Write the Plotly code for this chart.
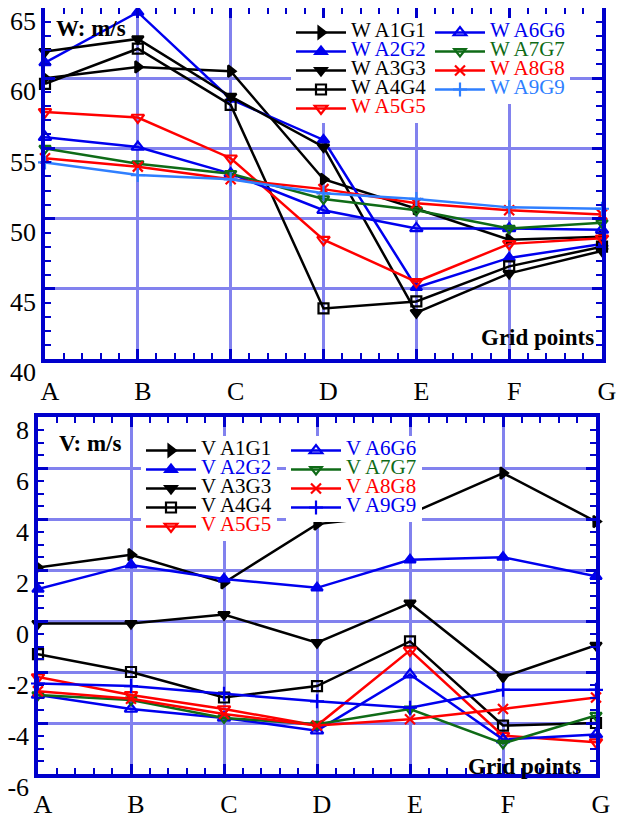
import plotly.graph_objects as go

# ---------------- data ----------------
categories = ["A", "B", "C", "D", "E", "F", "G"]
x_pos = list(range(len(categories)))

w_ticks = [40, 45, 50, 55, 60, 65]
w_tick_labels = ["40", "45", "50", "55", "60", "65"]
v_ticks = [-6, -4, -2, 0, 2, 4, 6, 8]
v_tick_labels = ["-6", "-4", "-2", "0", "2", "4", "6", "8"]

w_a1g1 = [60.0, 60.8, 60.5, 52.8, 50.7, 48.5, 48.7]
w_a2g2 = [61.1, 64.7, 58.5, 55.6, 45.1, 47.2, 48.2]
w_a3g3 = [61.9, 62.8, 58.7, 55.1, 43.3, 46.1, 47.7]
w_a4g4 = [59.6, 62.1, 58.1, 43.6, 44.1, 46.6, 48.0]
w_a5g5 = [57.6, 57.2, 54.3, 48.5, 45.5, 48.2, 48.6]
w_a6g6 = [55.8, 55.1, 53.2, 50.6, 49.3, 49.3, 49.2]
w_a7g7 = [55.0, 53.9, 53.2, 51.4, 50.6, 49.3, 49.7]
w_a8g8 = [54.3, 53.7, 52.8, 52.1, 51.1, 50.6, 50.3]
w_a9g9 = [54.0, 53.1, 52.8, 51.8, 51.4, 50.8, 50.7]

v_a1g1 = [2.1, 2.6, 1.5, 3.8, 4.2, 5.8, 3.9]
v_a2g2 = [1.25, 2.2, 1.65, 1.3, 2.4, 2.5, 1.75]
v_a3g3 = [-0.1, -0.1, 0.25, -0.85, 0.7, -2.2, -0.95]
v_a4g4 = [-1.3, -2.0, -3.0, -2.55, -0.8, -4.1, -4.0]
v_a5g5 = [-2.2, -2.9, -3.45, -4.1, -1.15, -4.5, -4.75]
v_a6g6 = [-2.9, -3.45, -3.8, -4.3, -2.1, -4.65, -4.45]
v_a7g7 = [-2.9, -3.1, -3.8, -4.05, -3.45, -4.8, -3.7]
v_a8g8 = [-2.75, -3.05, -3.65, -4.1, -3.85, -3.45, -3.0]
v_a9g9 = [-2.45, -2.55, -2.85, -3.15, -3.4, -2.7, -2.7]

series_ids = ["A1G1", "A2G2", "A3G3", "A4G4", "A5G5", "A6G6", "A7G7", "A8G8", "A9G9"]
w_values = [w_a1g1, w_a2g2, w_a3g3, w_a4g4, w_a5g5, w_a6g6, w_a7g7, w_a8g8, w_a9g9]
v_values = [v_a1g1, v_a2g2, v_a3g3, v_a4g4, v_a5g5, v_a6g6, v_a7g7, v_a8g8, v_a9g9]

# ---------------- styles ----------------
BLACK, BLUE, GREEN, RED, LBLUE = "#000000", "#0000ee", "#0f6b17", "#ff0000", "#2f7fff"
w_colors = [BLACK, BLUE, BLACK, BLACK, RED, BLUE, GREEN, RED, LBLUE]
v_colors = [BLACK, BLUE, BLACK, BLACK, RED, BLUE, GREEN, RED, BLUE]
symbols = ["triangle-right", "triangle-up", "triangle-down", "square-open",
           "triangle-down-open", "triangle-up-open", "triangle-down-open",
           "x-thin-open", "cross-thin-open"]
msizes = [10, 10, 10, 10, 11, 11, 10, 10, 10]

FRAME = "#0000cc"
GRID = "rgb(130,130,238)"
FONT = "Liberation Serif"

# page body has an 8px margin: figure is drawn at (8, 8) in the window
OFF = 8
W, H = 616, 812


def px_x(p):
    return min(max((p - OFF) / W, 0), 1)


def px_y(p):
    return min(max(1 - (p - OFF) / H, 0), 1)


fig = go.Figure()


def add_series(values, colors, prefix, xa, ya, leg_a, leg_b):
    for i, (sid, vals, col) in enumerate(zip(series_ids, values, colors)):
        name = f"<span style='font-size:21px;color:{col}'>{prefix} {sid}</span>"
        fig.add_trace(go.Scatter(
            x=x_pos, y=vals, mode="lines+markers", name=name,
            xaxis=xa, yaxis=ya, legend=leg_a if i < 5 else leg_b,
            line=dict(color=col, width=2.5),
            marker=dict(symbol=symbols[i], size=msizes[i], color=col,
                        line=dict(color=col, width=2.2)),
            cliponaxis=False,
        ))


add_series(w_values, w_colors, "W", "x", "y", "legend", "legend2")
add_series(v_values, v_colors, "V", "x2", "y2", "legend3", "legend4")


def xaxis_style(domain, anchor, standoff):
    return dict(
        domain=domain, anchor=anchor, range=[0, 6], tickmode="array",
        tickvals=x_pos, ticktext=categories, showline=True, linecolor=FRAME,
        linewidth=3.5, mirror="allticks", ticks="inside", ticklen=10,
        tickwidth=2.5, tickcolor=FRAME, showgrid=True, gridcolor=GRID,
        gridwidth=2.5, zeroline=False, automargin=False,
        ticklabelstandoff=standoff, ticklabelshift=5, ticklabeloverflow="allow",
        tickfont=dict(family=FONT, size=26, color="black"),
        minor=dict(tickmode="linear", tick0=0, dtick=0.2, ticks="inside",
                   ticklen=6, tickwidth=2, tickcolor=FRAME, showgrid=False),
    )


def yaxis_style(domain, anchor, rng, ticks, labels, minor_dtick):
    return dict(
        domain=domain, anchor=anchor, range=rng, tickmode="array",
        tickvals=ticks, ticktext=labels, showline=True, linecolor=FRAME,
        linewidth=3.5, mirror="allticks", ticks="inside", ticklen=10,
        tickwidth=2.5, tickcolor=FRAME, showgrid=True, gridcolor=GRID,
        gridwidth=2.5, zeroline=False, automargin=False, ticklabelshift=13,
        ticklabelstandoff=0, ticklabeloverflow="allow",
        tickfont=dict(family=FONT, size=26, color="black"),
        minor=dict(tickmode="linear", tick0=rng[0], dtick=minor_dtick,
                   ticks="inside", ticklen=6, tickwidth=2, tickcolor=FRAME,
                   showgrid=False),
    )


fig.update_layout(
    width=W, height=H, margin=dict(l=0, r=0, t=0, b=0),
    paper_bgcolor="white", plot_bgcolor="white",
    font=dict(family=FONT, color="black"),
    xaxis=xaxis_style([px_x(45), px_x(602)], "y", 6),
    yaxis=yaxis_style([px_y(359), px_y(8)], "x", [40, 65], w_ticks, w_tick_labels, 1),
    xaxis2=xaxis_style([px_x(38), px_x(596)], "y2", 4),
    yaxis2=yaxis_style([px_y(774), px_y(417)], "x2", [-6, 8], v_ticks, v_tick_labels, 0.5),
    showlegend=True,
)


def legend_style(xpx, ypx):
    return dict(x=px_x(xpx), y=px_y(ypx), xanchor="left", yanchor="top",
                bgcolor="white", borderwidth=0, itemwidth=50,
                font=dict(family=FONT, size=11, color="black"),
                tracegroupgap=0, itemclick=False)


fig.update_layout(
    legend=legend_style(291, 18),
    legend2=legend_style(430, 18),
    legend3=legend_style(141, 436),
    legend4=legend_style(286, 436),
)

ann = [
    dict(text="<b>W: m/s</b>", x=px_x(54), y=px_y(29)),
    dict(text="<b>V: m/s</b>", x=px_x(57), y=px_y(443)),
    dict(text="<b>Grid points</b>", x=px_x(479), y=px_y(337)),
    dict(text="<b>Grid points</b>", x=px_x(466), y=px_y(766)),
]
for a in ann:
    fig.add_annotation(xref="paper", yref="paper", xanchor="left", yanchor="middle",
                       showarrow=False, font=dict(family=FONT, size=23, color="black"),
                       **a)

fig.write_html("out.html")
